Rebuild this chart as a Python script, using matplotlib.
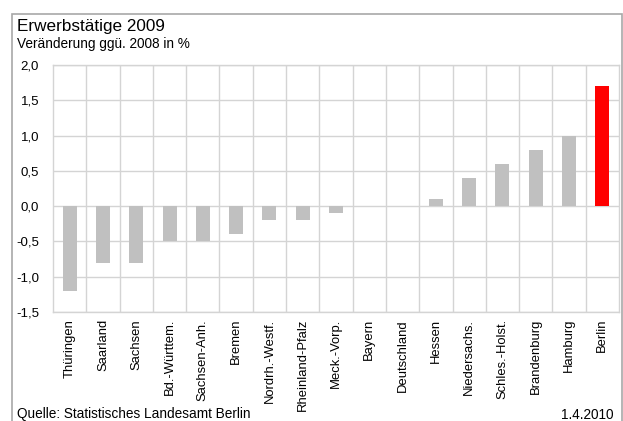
import matplotlib
matplotlib.use("Agg")
import matplotlib.pyplot as plt
from matplotlib.patches import Rectangle

plt.rcParams['font.family'] = ['Liberation Sans', 'DejaVu Sans']

categories = ["Thüringen", "Saarland", "Sachsen", "Bd.-Württem.", "Sachsen-Anh.",
              "Bremen", "Nordrh.-Westf.", "Rheinland-Pfalz", "Meck.-Vorp.", "Bayern",
              "Deutschland", "Hessen", "Niedersachs.", "Schles.-Holst.", "Brandenburg",
              "Hamburg", "Berlin"]
values = [-1.2, -0.8, -0.8, -0.5, -0.5, -0.4, -0.2, -0.2, -0.1, 0.0,
          0.0, 0.1, 0.4, 0.6, 0.8, 1.0, 1.7]
highlight = "Berlin"
yticks = [-1.5, -1.0, -0.5, 0.0, 0.5, 1.0, 1.5, 2.0]
ytick_labels = ["-1,5", "-1,0", "-0,5", "0,0", "0,5", "1,0", "1,5", "2,0"]

W, H = 623, 421
fig = plt.figure(figsize=(W / 100, H / 100), dpi=100)

# outer frame
fig.patches.append(Rectangle((12 / W, -0.05), (621.5 - 12) / W, 1.05 - 14 / H,
                             transform=fig.transFigure, fill=False,
                             edgecolor="#a8a8a8", linewidth=1.2))

ax = fig.add_axes([53 / W, 1 - 312 / H, (619 - 53) / W, (312 - 65) / H])
n = len(categories)
x = list(range(n))
colors = ["#ff0000" if c == highlight else "#c0c0c0" for c in categories]
ax.bar(x, values, width=0.42, color=colors, zorder=3)

ax.set_xlim(-0.5, n - 0.5)
ax.set_ylim(-1.5, 2.0)
ax.set_yticks(yticks)
ax.set_yticklabels(ytick_labels, fontsize=9.5)
ax.set_xticks(x)
ax.set_xticklabels(categories, rotation=90, fontsize=9.4)
ax.tick_params(axis="both", length=0)
ax.tick_params(axis="y", pad=10)
ax.tick_params(axis="x", pad=5)

for b in [i + 0.5 for i in range(n - 1)]:
    ax.axvline(b, color="#d4d4d4", linewidth=1.0, zorder=1)
for yv in yticks:
    ax.axhline(yv, color="#d4d4d4", linewidth=1.0, zorder=1)
for s in ax.spines.values():
    s.set_color("#d4d4d4")
    s.set_linewidth(1.0)

fig.text(17 / W, 1 - 31.5 / H, "Erwerbstätige 2009", fontsize=12.3, va="baseline", ha="left")
fig.text(17 / W, 1 - 48 / H, "Veränderung ggü. 2008 in %", fontsize=9.8, va="baseline", ha="left")
fig.text(17 / W, 1 - 418 / H, "Quelle: Statistisches Landesamt Berlin", fontsize=9.8, va="baseline", ha="left")
fig.text(613 / W, 1 - 419 / H, "1.4.2010", fontsize=9.8, va="baseline", ha="right")

fig.savefig("out.png", dpi=100)
